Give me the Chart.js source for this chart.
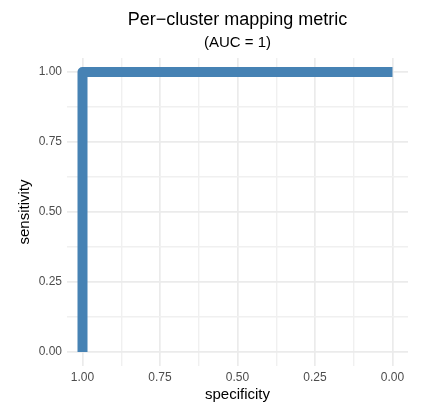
<!DOCTYPE html>
<html>
<head>
<meta charset="utf-8">
<script src="https://cdn.jsdelivr.net/npm/chart.js@4/dist/chart.umd.min.js"></script>
<style>
  html, body { margin: 0; padding: 0; background: #ffffff; }
  #wrap { width: 422px; height: 406px; position: relative; }
</style>
</head>
<body>
<div id="wrap"><canvas id="roc"></canvas></div>
<script>
// ROC curve points
const specificity = [1, 1, 0];
const sensitivity = [0, 1, 1];

// Axis breaks (major labelled, minor unlabelled)
const majorBreaks = [0, 0.25, 0.5, 0.75, 1];
const minorBreaks = [0.125, 0.375, 0.625, 0.875];
const tickLabels = ['0.00', '0.25', '0.50', '0.75', '1.00'];

const chartTitle = 'Per\u2212cluster mapping metric';
const chartSubtitle = '(AUC = 1)';
const xTitle = 'specificity';
const yTitle = 'sensitivity';

const FONT = '"Liberation Sans", Arial, Helvetica, sans-serif';
const allBreaks = majorBreaks.concat(minorBreaks).sort((a, b) => a - b);

function isMajor(v) {
  return majorBreaks.some(m => Math.abs(m - v) < 1e-9);
}
function labelFor(v) {
  const i = majorBreaks.findIndex(m => Math.abs(m - v) < 1e-9);
  return i >= 0 ? tickLabels[i] : '';
}
function setBreaks(scale) {
  scale.ticks = allBreaks.map(v => ({ value: v }));
}
const gridOpts = {
  drawTicks: false,
  color: ctx => (ctx.tick && isMajor(ctx.tick.value)) ? '#EBEBEB' : '#F0F0F0',
  lineWidth: ctx => (ctx.tick && isMajor(ctx.tick.value)) ? 1.7 : 1.4
};

// Title and subtitle centred over the plotting panel
const panelTitles = {
  id: 'panelTitles',
  afterDraw(chart) {
    const { ctx, chartArea } = chart;
    const cx = (chartArea.left + chartArea.right) / 2;
    ctx.save();
    ctx.fillStyle = '#000000';
    ctx.textAlign = 'center';
    ctx.textBaseline = 'alphabetic';
    ctx.font = '18px ' + FONT;
    ctx.fillText(chartTitle, cx, 25);
    ctx.font = '15px ' + FONT;
    ctx.fillText(chartSubtitle, cx, 47);
    ctx.restore();
  }
};

const data = {
  datasets: [{
    data: specificity.map((s, i) => ({ x: s, y: sensitivity[i] })),
    borderColor: '#4682B4',
    backgroundColor: '#4682B4',
    borderWidth: 10,
    borderJoinStyle: 'round',
    borderCapStyle: 'butt',
    pointRadius: 0,
    tension: 0,
    fill: false
  }]
};

new Chart(document.getElementById('roc'), {
  type: 'line',
  data,
  plugins: [panelTitles],
  options: {
    responsive: true,
    maintainAspectRatio: false,
    animation: false,
    devicePixelRatio: 1,
    layout: { padding: { top: 58, right: 14, bottom: 0, left: 0 } },
    plugins: {
      legend: { display: false },
      title: { display: false },
      tooltip: { enabled: false }
    },
    scales: {
      x: {
        type: 'linear',
        reverse: true,
        min: -0.05,
        max: 1.05,
        afterBuildTicks: setBreaks,
        afterFit: s => { s.height = 40; },
        border: { display: false },
        grid: gridOpts,
        ticks: {
          autoSkip: false,
          maxRotation: 0,
          padding: 4,
          color: '#4D4D4D',
          font: { family: FONT, size: 12 },
          callback: v => labelFor(v)
        },
        title: {
          display: true,
          text: xTitle,
          color: '#000000',
          font: { family: FONT, size: 15 },
          padding: { top: 0, bottom: 2 }
        }
      },
      y: {
        type: 'linear',
        min: -0.05,
        max: 1.05,
        afterBuildTicks: setBreaks,
        afterFit: s => { s.width = 67; },
        border: { display: false },
        grid: gridOpts,
        ticks: {
          autoSkip: false,
          padding: 5,
          color: '#4D4D4D',
          font: { family: FONT, size: 12 },
          callback: v => labelFor(v)
        },
        title: {
          display: true,
          text: yTitle,
          color: '#000000',
          font: { family: FONT, size: 15 },
          padding: { top: 16, bottom: 0 }
        }
      }
    }
  }
});
</script>
</body>
</html>
